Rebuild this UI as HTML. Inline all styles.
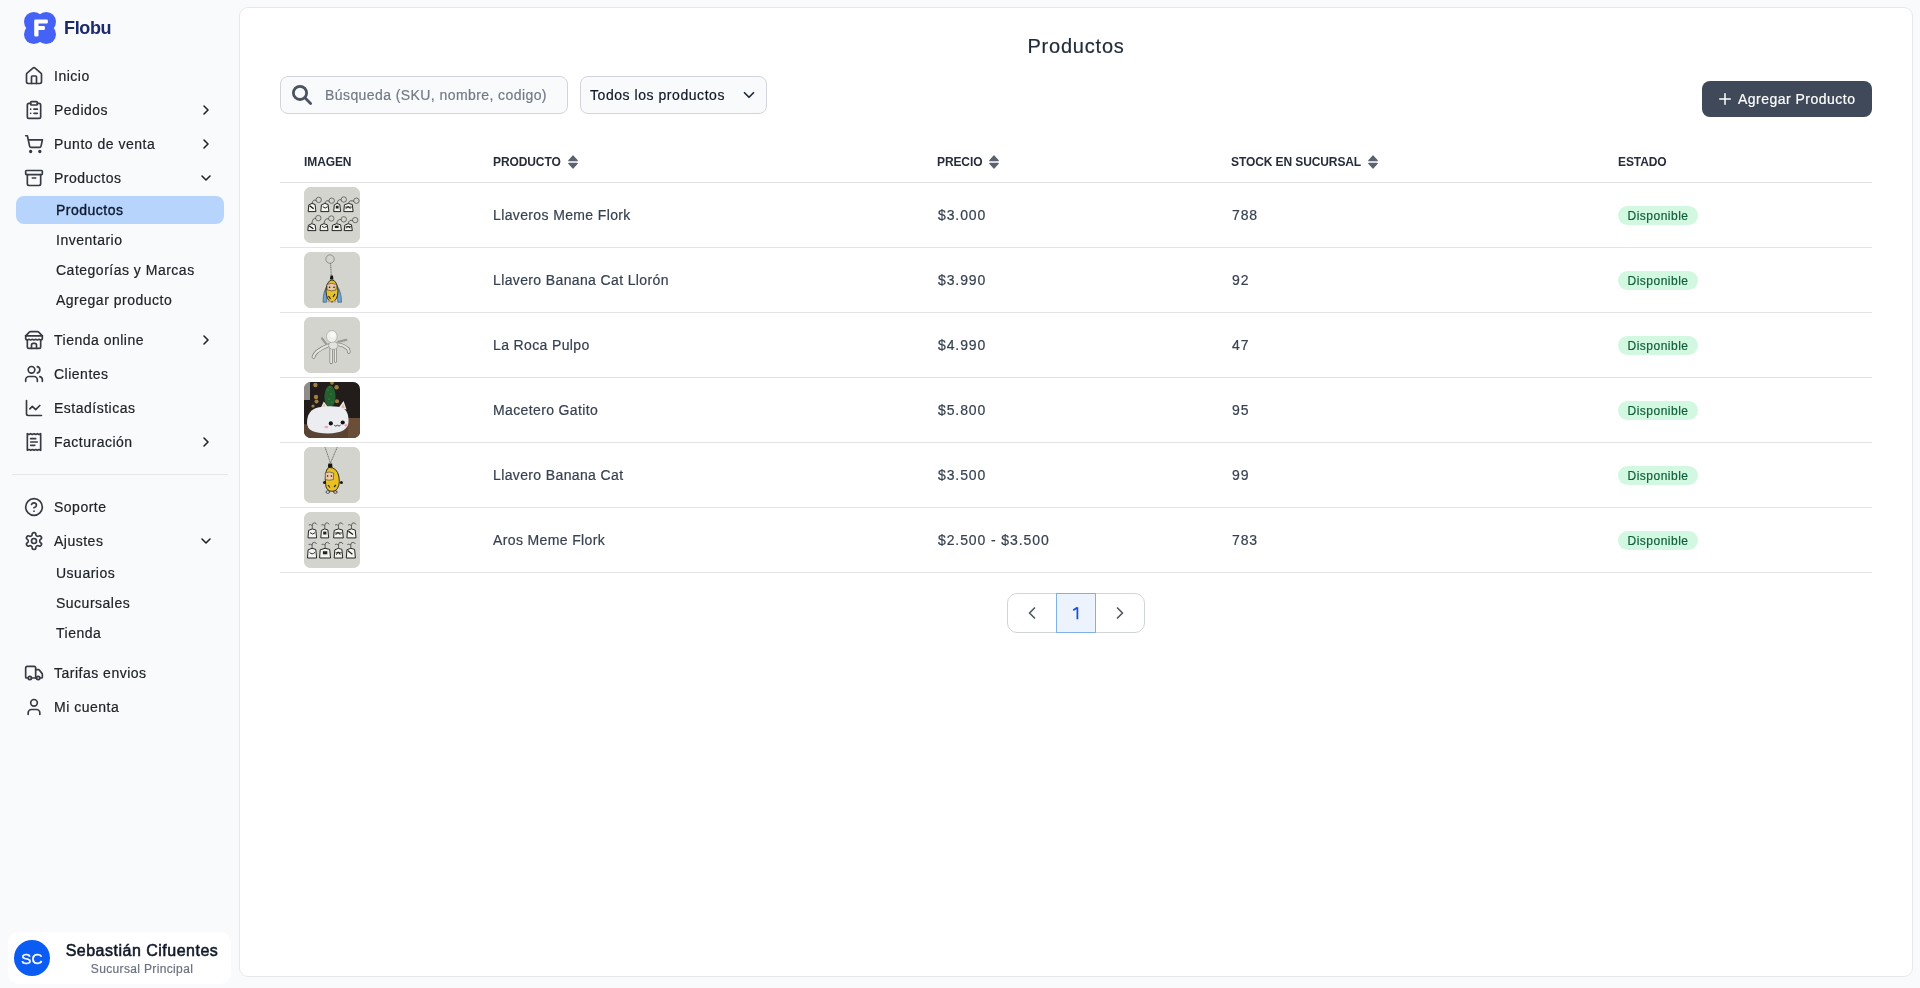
<!DOCTYPE html>
<html lang="es">
<head>
<meta charset="utf-8">
<title>Productos - Flobu</title>
<style>
*{box-sizing:border-box;margin:0;padding:0}
html,body{width:1920px;height:988px;overflow:hidden}
body{background:#f9fafb;font-family:"Liberation Sans",sans-serif;color:#1f2937;position:relative}
.nav .t,.sub .t,.td,#sel .t,#title,#search .ph,#btn .t,.badge,#ubr{-webkit-text-stroke:.2px currentColor}
.abs{position:absolute}
#root{position:absolute;left:0;top:0;width:1920px;height:988px;will-change:transform}
svg.i{position:absolute;fill:none;stroke:currentColor;stroke-width:2;stroke-linecap:round;stroke-linejoin:round}
/* sidebar */
#logo{left:24px;top:12px;width:32px;height:32px}
#brand{left:64px;top:18px;font-size:18px;font-weight:bold;color:#1a2a6c;line-height:20px;letter-spacing:-.35px}
.nav{position:absolute;left:0;width:232px;height:34px}
.nav .t{position:absolute;left:54px;top:0;line-height:34px;font-size:14px;letter-spacing:.5px;color:#202428;white-space:nowrap}
.nav svg.i{left:24px;top:7px;width:20px;height:20px;color:#363a42}
.nav svg.ch{left:198px;top:9px;width:16px;height:16px;color:#202428;stroke-width:2.4}
.sub{position:absolute;left:16px;width:208px;height:28px;border-radius:8px}
.sub .t{position:absolute;left:40px;top:0;line-height:28px;font-size:14px;letter-spacing:.5px;color:#202428;white-space:nowrap}
.sub.act{background:#b7d5fc}
.sub.act .t{color:#0c1830;-webkit-text-stroke:.35px #0c1830}
#div{left:12px;top:474px;width:216px;height:1px;background:#e5e7eb}
#user{left:8px;top:932px;width:223px;height:52px;background:#fff;border-radius:10px}
#av{left:6px;top:8px;width:36px;height:36px;border-radius:50%;background:#0b5cf2;color:#fff;font-size:15.5px;line-height:37px;text-align:center;-webkit-text-stroke:.3px #fff;letter-spacing:.3px}
#uname{left:56px;top:9px;width:156px;text-align:center;font-size:16px;font-weight:normal;-webkit-text-stroke:.55px #111827;letter-spacing:.5px;color:#111827;line-height:20px;white-space:nowrap}
#ubr{left:56px;top:29px;width:156px;text-align:center;font-size:12px;color:#6b7280;line-height:16px;letter-spacing:.35px;white-space:nowrap}
/* main */
#panel{left:239px;top:7px;width:1674px;height:970px;background:#fff;border:1px solid #e5e7eb;border-radius:9px}
#title{left:239px;top:34px;width:1674px;text-align:center;font-size:20px;letter-spacing:.8px;color:#1f2937;line-height:24px}
#search{left:280px;top:76px;width:288px;height:38px;border:1px solid #d1d5db;border-radius:8px;background:#f9fafb}
#search svg{color:#4b5361}
#search .ph{position:absolute;left:44px;top:0;line-height:36px;font-size:14px;letter-spacing:.42px;color:#737a86;white-space:nowrap}
#sel{left:580px;top:76px;width:187px;height:38px;border:1px solid #d1d5db;border-radius:8px;background:#f9fafb}
#sel .t{position:absolute;left:9px;top:0;line-height:36px;font-size:14px;letter-spacing:.55px;color:#111827;white-space:nowrap}
#sel svg{left:159px;top:9px;width:18px;height:18px;color:#1f2937;stroke-width:2.3}
#btn{left:1702px;top:81px;width:170px;height:36px;background:#3f4959;border-radius:8px;color:#fff}
#btn svg{left:14px;top:9px;width:18px;height:18px;color:#fff}
#btn .t{position:absolute;left:36px;top:0;line-height:36px;font-size:14px;letter-spacing:.48px;white-space:nowrap}
.th{position:absolute;top:154px;font-size:12px;font-weight:bold;color:#262c3a;line-height:16px;letter-spacing:-.1px;white-space:nowrap}
.sort{position:absolute;top:155px;width:10px;height:14px}
.hl{position:absolute;left:280px;width:1592px;height:1px;background:#e3e4e6}
.img{position:absolute;left:304px;width:56px;height:56px;border-radius:7px;background:#d5d5d0;overflow:hidden}
.td{position:absolute;font-size:14px;letter-spacing:.37px;color:#374151;line-height:20px;white-space:nowrap}
.num{letter-spacing:.9px}
.badge{position:absolute;left:1618px;width:80px;height:19px;border-radius:10px;background:#d3f8e2;color:#0f5f38;font-size:12px;line-height:21px;text-align:center;letter-spacing:.5px}
#pag{left:1007px;top:593px;width:138px;height:40px;border:1px solid #d1d5db;border-radius:10px;background:#fff}
#pag .pg{position:absolute;left:48px;top:-1px;width:40px;height:40px;border:1px solid #7fb0e6;background:#edf3fd;color:#1d4ed8;font-size:16px;line-height:38px;text-align:center}
#pag svg.i{top:9px;width:20px;height:20px;color:#52575e}
</style>
</head>
<body>
<div id="root">
<!-- SIDEBAR -->
<svg id="logo" class="abs" viewBox="0 0 32 32">
  <g fill="#4462f6">
    <circle cx="9.8" cy="9.8" r="9.8"/><circle cx="22.2" cy="9.8" r="9.8"/><circle cx="9.8" cy="22.2" r="9.8"/><circle cx="22.2" cy="22.2" r="9.8"/>
  </g>
  <path d="M11.4 7.45h11.3a1.2 1.2 0 0 1 1.2 1.2v1.65a1.2 1.2 0 0 1-1.2 1.2h-8.2v2.4h5.2a1.2 1.2 0 0 1 1.2 1.2v1.6a1.2 1.2 0 0 1-1.2 1.2h-5.2v5.3a1.2 1.2 0 0 1-1.2 1.2h-1.9a1.2 1.2 0 0 1-1.2-1.2V8.65a1.2 1.2 0 0 1 1.2-1.2z" fill="#fff"/>
</svg>
<div id="brand" class="abs">Flobu</div>

<div class="nav" style="top:59px"><svg class="i" viewBox="0 0 24 24"><path d="M15 21v-8a1 1 0 0 0-1-1h-4a1 1 0 0 0-1 1v8"/><path d="M3 10a2 2 0 0 1 .709-1.528l7-5.999a2 2 0 0 1 2.582 0l7 5.999A2 2 0 0 1 21 10v9a2 2 0 0 1-2 2H5a2 2 0 0 1-2-2z"/></svg><span class="t">Inicio</span></div>

<div class="nav" style="top:93px"><svg class="i" viewBox="0 0 24 24"><rect width="8" height="4" x="8" y="2" rx="1" ry="1"/><path d="M16 4h2a2 2 0 0 1 2 2v14a2 2 0 0 1-2 2H6a2 2 0 0 1-2-2V6a2 2 0 0 1 2-2h2"/><path d="M12 11h4"/><path d="M12 16h4"/><path d="M8 11h.01"/><path d="M8 16h.01"/></svg><span class="t">Pedidos</span><svg class="i ch" viewBox="0 0 24 24"><path d="m9 18 6-6-6-6"/></svg></div>

<div class="nav" style="top:127px"><svg class="i" viewBox="0 0 24 24"><circle cx="8" cy="21" r="1"/><circle cx="19" cy="21" r="1"/><path d="M2.05 2.05h2l2.66 12.42a2 2 0 0 0 2 1.58h9.78a2 2 0 0 0 1.95-1.57l1.65-7.43H5.12"/></svg><span class="t">Punto de venta</span><svg class="i ch" viewBox="0 0 24 24"><path d="m9 18 6-6-6-6"/></svg></div>

<div class="nav" style="top:161px"><svg class="i" viewBox="0 0 24 24"><rect width="20" height="5" x="2" y="3" rx="1"/><path d="M4 8v11a2 2 0 0 0 2 2h12a2 2 0 0 0 2-2V8"/><path d="M10 12h4"/></svg><span class="t">Productos</span><svg class="i ch" viewBox="0 0 24 24"><path d="m6 9 6 6 6-6"/></svg></div>

<div class="sub act" style="top:196px"><span class="t">Productos</span></div>
<div class="sub" style="top:226px"><span class="t">Inventario</span></div>
<div class="sub" style="top:256px"><span class="t">Categorías y Marcas</span></div>
<div class="sub" style="top:286px"><span class="t">Agregar producto</span></div>

<div class="nav" style="top:323px"><svg class="i" viewBox="0 0 24 24"><path d="m2 7 4.41-4.41A2 2 0 0 1 7.83 2h8.34a2 2 0 0 1 1.42.59L22 7"/><path d="M4 12v8a2 2 0 0 0 2 2h12a2 2 0 0 0 2-2v-8"/><path d="M15 22v-4a2 2 0 0 0-2-2h-2a2 2 0 0 0-2 2v4"/><path d="M2 7h20"/><path d="M22 7v3a2 2 0 0 1-2 2a2.7 2.7 0 0 1-1.59-.63.7.7 0 0 0-.82 0A2.7 2.7 0 0 1 16 12a2.7 2.7 0 0 1-1.59-.63.7.7 0 0 0-.82 0A2.7 2.7 0 0 1 12 12a2.7 2.7 0 0 1-1.59-.63.7.7 0 0 0-.82 0A2.7 2.7 0 0 1 8 12a2.7 2.7 0 0 1-1.59-.63.7.7 0 0 0-.82 0A2.7 2.7 0 0 1 4 12a2 2 0 0 1-2-2V7"/></svg><span class="t">Tienda online</span><svg class="i ch" viewBox="0 0 24 24"><path d="m9 18 6-6-6-6"/></svg></div>

<div class="nav" style="top:357px"><svg class="i" viewBox="0 0 24 24"><path d="M16 21v-2a4 4 0 0 0-4-4H6a4 4 0 0 0-4 4v2"/><circle cx="9" cy="7" r="4"/><path d="M22 21v-2a4 4 0 0 0-3-3.87"/><path d="M16 3.13a4 4 0 0 1 0 7.75"/></svg><span class="t">Clientes</span></div>

<div class="nav" style="top:391px"><svg class="i" viewBox="0 0 24 24"><path d="M3 3v16a2 2 0 0 0 2 2h16"/><path d="m19 9-5 5-4-4-3 3"/></svg><span class="t">Estadísticas</span></div>

<div class="nav" style="top:425px"><svg class="i" viewBox="0 0 24 24"><path d="M4 2v20l2-1 2 1 2-1 2 1 2-1 2 1 2-1 2 1V2l-2 1-2-1-2 1-2-1-2 1-2-1-2 1Z"/><path d="M14 8H8"/><path d="M16 12H8"/><path d="M13 16H8"/></svg><span class="t">Facturación</span><svg class="i ch" viewBox="0 0 24 24"><path d="m9 18 6-6-6-6"/></svg></div>

<div id="div" class="abs"></div>

<div class="nav" style="top:490px"><svg class="i" viewBox="0 0 24 24"><circle cx="12" cy="12" r="10"/><path d="M9.09 9a3 3 0 0 1 5.83 1c0 2-3 3-3 3"/><path d="M12 17h.01"/></svg><span class="t">Soporte</span></div>

<div class="nav" style="top:524px"><svg class="i" viewBox="0 0 24 24"><path d="M12.22 2h-.44a2 2 0 0 0-2 2v.18a2 2 0 0 1-1 1.73l-.43.25a2 2 0 0 1-2 0l-.15-.08a2 2 0 0 0-2.73.73l-.22.38a2 2 0 0 0 .73 2.73l.15.1a2 2 0 0 1 1 1.72v.51a2 2 0 0 1-1 1.74l-.15.09a2 2 0 0 0-.73 2.73l.22.38a2 2 0 0 0 2.730.73l.15-.08a2 2 0 0 1 2 0l.43.25a2 2 0 0 1 1 1.73V20a2 2 0 0 0 2 2h.44a2 2 0 0 0 2-2v-.18a2 2 0 0 1 1-1.73l.43-.25a2 2 0 0 1 2 0l.15.08a2 2 0 0 0 2.73-.73l.22-.39a2 2 0 0 0-.73-2.730l-.15-.08a2 2 0 0 1-1-1.74v-.5a2 2 0 0 1 1-1.74l.15-.09a2 2 0 0 0 .73-2.73l-.22-.38a2 2 0 0 0-2.73-.73l-.15.08a2 2 0 0 1-2 0l-.43-.25a2 2 0 0 1-1-1.73V4a2 2 0 0 0-2-2z"/><circle cx="12" cy="12" r="3"/></svg><span class="t">Ajustes</span><svg class="i ch" viewBox="0 0 24 24"><path d="m6 9 6 6 6-6"/></svg></div>

<div class="sub" style="top:559px"><span class="t">Usuarios</span></div>
<div class="sub" style="top:589px"><span class="t">Sucursales</span></div>
<div class="sub" style="top:619px"><span class="t">Tienda</span></div>

<div class="nav" style="top:656px"><svg class="i" viewBox="0 0 24 24"><path d="M14 18V6a2 2 0 0 0-2-2H4a2 2 0 0 0-2 2v11a1 1 0 0 0 1 1h2"/><path d="M15 18H9"/><path d="M19 18h2a1 1 0 0 0 1-1v-3.650a1 1 0 0 0-.22-.624l-3.48-4.35A1 1 0 0 0 17.52 8H14"/><circle cx="17" cy="18" r="2"/><circle cx="7" cy="18" r="2"/></svg><span class="t">Tarifas envios</span></div>

<div class="nav" style="top:690px"><svg class="i" viewBox="0 0 24 24"><path d="M19 21v-2a4 4 0 0 0-4-4H9a4 4 0 0 0-4 4v2"/><circle cx="12" cy="7" r="4"/></svg><span class="t">Mi cuenta</span></div>

<div id="user" class="abs"><div id="av" class="abs">SC</div><div id="uname" class="abs">Sebastián Cifuentes</div><div id="ubr" class="abs">Sucursal Principal</div></div>

<!-- MAIN -->
<div id="panel" class="abs"></div>
<div id="title" class="abs">Productos</div>

<div id="search" class="abs"><svg class="i" viewBox="0 0 40 36" style="left:0;top:0;width:40px;height:36px;stroke-width:2.8"><circle cx="19" cy="15.9" r="6.6"/><path d="M23.9 20.8 29.6 26.4"/></svg><span class="ph">Búsqueda (SKU, nombre, codigo)</span></div>
<div id="sel" class="abs"><span class="t">Todos los productos</span><svg class="i" viewBox="0 0 24 24"><path d="m6 9 6 6 6-6"/></svg></div>
<div id="btn" class="abs"><svg class="i" viewBox="0 0 24 24"><path d="M5 12h14"/><path d="M12 5v14"/></svg><span class="t">Agregar Producto</span></div>

<!-- table header -->
<div class="th" style="left:304px">IMAGEN</div>
<div class="th" style="left:493px">PRODUCTO</div>
<svg class="sort" style="left:568px" viewBox="0 0 10 14"><path d="M5 0.8 L9.3 5.6 H0.7Z M5 13.2 L9.3 8.4 H0.7Z" fill="#5c6270" stroke="#5c6270" stroke-width="1.1" stroke-linejoin="round"/></svg>
<div class="th" style="left:937px">PRECIO</div>
<svg class="sort" style="left:989px" viewBox="0 0 10 14"><path d="M5 0.8 L9.3 5.6 H0.7Z M5 13.2 L9.3 8.4 H0.7Z" fill="#5c6270" stroke="#5c6270" stroke-width="1.1" stroke-linejoin="round"/></svg>
<div class="th" style="left:1231px">STOCK EN SUCURSAL</div>
<svg class="sort" style="left:1368px" viewBox="0 0 10 14"><path d="M5 0.8 L9.3 5.6 H0.7Z M5 13.2 L9.3 8.4 H0.7Z" fill="#5c6270" stroke="#5c6270" stroke-width="1.1" stroke-linejoin="round"/></svg>
<div class="th" style="left:1618px">ESTADO</div>

<div class="hl" style="top:182px"></div>
<div class="hl" style="top:247px"></div>
<div class="hl" style="top:312px"></div>
<div class="hl" style="top:377px"></div>
<div class="hl" style="top:442px"></div>
<div class="hl" style="top:507px"></div>
<div class="hl" style="top:572px"></div>

<!-- rows -->
<div class="img" style="top:187px"><svg width="56" height="56" viewBox="0 0 56 56"><rect width="56" height="56" fill="#d4d4ce"/><circle cx="14.7" cy="12.9" r="2.7" fill="none" stroke="#555" stroke-width="0.8"/><path d="M8.1 16.2Q9.1 11.9 12.3 13.4" fill="none" stroke="#444" stroke-width="0.8"/><path d="M4.2 24.6L4.8 17.9Q8.1 15.1 11.1 17.5L11.9 24.6Z" fill="#f4f4f0" stroke="#111" stroke-width="0.9"/><path d="M5.7 18.7l3.9 3.1" stroke="#111" stroke-width="1.2"/><circle cx="27.7" cy="13.7" r="2.7" fill="none" stroke="#555" stroke-width="0.8"/><path d="M20.9 16.2Q21.9 12.7 25.3 14.2" fill="none" stroke="#444" stroke-width="0.8"/><path d="M16.8 24.6L17.4 17.9Q20.9 15.1 24.1 17.5L24.9 24.6Z" fill="#f4f4f0" stroke="#111" stroke-width="0.9"/><path d="M18.8 19.7q2.4 2.7 4.9 0" fill="none" stroke="#111" stroke-width="0.9"/><circle cx="39.8" cy="12.5" r="2.7" fill="none" stroke="#555" stroke-width="0.8"/><path d="M33.1 16.2Q34.1 11.5 37.4 13.0" fill="none" stroke="#444" stroke-width="0.8"/><path d="M29.7 24.6L30.3 17.9Q33.1 15.1 35.8 17.5L36.6 24.6Z" fill="#f4f4f0" stroke="#111" stroke-width="0.9"/><rect x="31.8" y="18.8" width="2.8" height="2.7" fill="#222"/><circle cx="52.4" cy="13.7" r="2.7" fill="none" stroke="#555" stroke-width="0.8"/><path d="M44.5 16.2Q45.5 12.7 50.0 14.2" fill="none" stroke="#444" stroke-width="0.8"/><path d="M39.8 24.6L40.4 17.9Q44.5 15.1 48.3 17.5L49.1 24.6Z" fill="#f4f4f0" stroke="#111" stroke-width="0.9"/><path d="M41.3 20.1h6.5M41.8 21.9l2.3 -2.7l2.3 2.7" fill="none" stroke="#111" stroke-width="0.9"/><circle cx="14.3" cy="31.1" r="2.7" fill="none" stroke="#555" stroke-width="0.8"/><path d="M7.8 36.5Q8.8 30.1 11.9 31.6" fill="none" stroke="#444" stroke-width="0.8"/><path d="M3.8 43.6L4.4 38.2Q7.9 35.4 11.1 37.8L11.9 43.6Z" fill="#f4f4f0" stroke="#111" stroke-width="0.9"/><path d="M5.3 39.0l4.1 2.7" stroke="#111" stroke-width="1.2"/><circle cx="27.3" cy="31.5" r="2.7" fill="none" stroke="#555" stroke-width="0.8"/><path d="M20.0 36.5Q21.0 30.5 24.9 32.0" fill="none" stroke="#444" stroke-width="0.8"/><path d="M16.0 43.6L16.6 38.2Q20.0 35.4 23.2 37.8L24.0 43.6Z" fill="#f4f4f0" stroke="#111" stroke-width="0.9"/><path d="M18.0 39.4q2.4 2.3 4.8 0" fill="none" stroke="#111" stroke-width="0.9"/><circle cx="39.8" cy="32.3" r="2.7" fill="none" stroke="#555" stroke-width="0.8"/><path d="M32.7 36.5Q33.7 31.3 37.4 32.8" fill="none" stroke="#444" stroke-width="0.8"/><path d="M28.0 43.6L28.6 38.2Q32.7 35.4 36.6 37.8L37.4 43.6Z" fill="#f4f4f0" stroke="#111" stroke-width="0.9"/><rect x="30.8" y="38.7" width="3.8" height="2.3" fill="#222"/><circle cx="51.2" cy="33.1" r="2.7" fill="none" stroke="#555" stroke-width="0.8"/><path d="M44.2 36.5Q45.2 32.1 48.8 33.6" fill="none" stroke="#444" stroke-width="0.8"/><path d="M40.2 43.6L40.8 38.2Q44.2 35.4 47.5 37.8L48.3 43.6Z" fill="#f4f4f0" stroke="#111" stroke-width="0.9"/><path d="M41.7 39.8h5.7M42.2 41.3l2.0 -2.3l2.0 2.3" fill="none" stroke="#111" stroke-width="0.9"/></svg></div>
<div class="td" style="left:493px;top:205px">Llaveros Meme Flork</div>
<div class="td num" style="left:938px;top:205px">$3.000</div>
<div class="td num" style="left:1232px;top:205px">788</div>
<div class="badge" style="top:206px">Disponible</div>

<div class="img" style="top:252px"><svg width="56" height="56" viewBox="0 0 56 56"><rect width="56" height="56" fill="#d4d4ce"/><circle cx="26" cy="7.1" r="4.2" fill="none" stroke="#8a8a86" stroke-width="0.9"/><path d="M26.6 11.3L27.3 24" stroke="#6d6d6a" stroke-width="1" stroke-dasharray="1.2 .6"/><path d="M23.5 33.5Q19 39 19 50.2L22.6 50.2Q22.3 42 24.5 36Z" fill="#6fa6d2" stroke="#2a4a6a" stroke-width=".6"/><path d="M32.5 33.5Q37.5 39 37.5 50.2L33.8 50.2Q34 42 31.5 36Z" fill="#6fa6d2" stroke="#2a4a6a" stroke-width=".6"/><ellipse cx="28" cy="39" rx="6" ry="11" fill="#e7c12a" stroke="#1e1e1e" stroke-width=".9"/><path d="M22.8 32.5Q27.5 30 32.5 32.5L32 38Q27.5 39.5 23.2 38Z" fill="#e9c6a4" stroke="#222" stroke-width=".5"/><circle cx="25.6" cy="35.2" r=".8" fill="#111"/><circle cx="30" cy="35.2" r=".8" fill="#111"/><path d="M26.5 23.6h2.4l.6 4h-3.6z" fill="#141414"/><path d="M24.5 44l2 3M29 45l2-3" stroke="#222" stroke-width="1.2"/><ellipse cx="25.5" cy="49.5" rx="1.8" ry="1" fill="#c9a080"/><ellipse cx="30.5" cy="49.5" rx="1.8" ry="1" fill="#c9a080"/></svg></div>
<div class="td" style="left:493px;top:270px">Llavero Banana Cat Llorón</div>
<div class="td num" style="left:938px;top:270px">$3.990</div>
<div class="td num" style="left:1232px;top:270px">92</div>
<div class="badge" style="top:271px">Disponible</div>

<div class="img" style="top:317px"><svg width="56" height="56" viewBox="0 0 56 56"><rect width="56" height="56" fill="#d4d4ce"/><g fill="none" stroke-linecap="round"><path d="M24.1 28.4Q18 31 13.2 34.4Q10.5 37 9.5 39.9" stroke="#6e6e6a" stroke-width="3.6"/><path d="M24.1 28.4Q18 31 13.2 34.4Q10.5 37 9.5 39.9" stroke="#e2e2df" stroke-width="2.4"/><path d="M32.6 27.1Q39.3 27.5 44.1 32Q44.8 33.5 44.8 35" stroke="#6e6e6a" stroke-width="3.4"/><path d="M32.6 27.1Q39.3 27.5 44.1 32Q44.8 33.5 44.8 35" stroke="#e2e2df" stroke-width="2.2"/><path d="M27.1 31V45.4M31.5 31V44.1" stroke="#6e6e6a" stroke-width="3"/><path d="M27.1 31V45.4M31.5 31V44.1" stroke="#e6e6e4" stroke-width="1.8"/><path d="M18 21.3L22.3 27.1M34.4 24.7L42.3 22.9" stroke="#9a9a96" stroke-width="2.2"/></g><ellipse cx="29.3" cy="28.5" rx="4.6" ry="4" fill="#e2e2e0" stroke="#8a8a86" stroke-width=".6"/><ellipse cx="27.8" cy="19.5" rx="5.4" ry="6" fill="#efefed" stroke="#9a9a96" stroke-width=".6"/><ellipse cx="29" cy="17.5" rx="2.5" ry="3" fill="#fafaf8"/></svg></div>
<div class="td" style="left:493px;top:335px">La Roca Pulpo</div>
<div class="td num" style="left:938px;top:335px">$4.990</div>
<div class="td num" style="left:1232px;top:335px">47</div>
<div class="badge" style="top:336px">Disponible</div>

<div class="img" style="top:382px"><svg width="56" height="56" viewBox="0 0 56 56"><rect width="56" height="56" fill="#221d1b"/><path d="M0 42Q20 46 56 38V56H0Z" fill="#5a4332"/><rect x="44" y="36" width="12" height="20" fill="#6a4e38"/><g fill="#c9a04e" opacity=".75"><circle cx="11.4" cy="3" r="2.2"/><circle cx="12" cy="15" r="2.2"/><circle cx="12.5" cy="19.5" r="2"/><circle cx="32.6" cy="5.3" r="2.2"/><circle cx="33" cy="19.3" r="2"/><circle cx="28" cy="1" r="1.8"/><circle cx="9" cy="24" r="1.6"/></g><rect x="0" y="0" width="6" height="18" fill="#bdbdb8" opacity=".7"/><ellipse cx="26" cy="14.5" rx="5.6" ry="11" fill="#24602f"/><g fill="#7fb07f" opacity=".8"><circle cx="24" cy="8" r=".5"/><circle cx="27" cy="12" r=".5"/><circle cx="25" cy="17" r=".5"/><circle cx="28" cy="20" r=".5"/><circle cx="26" cy="5" r=".5"/></g><path d="M16 27.5L19.8 19.6L24.5 26Z" fill="#ecedf0"/><path d="M34.5 26L39.6 19L42.5 27.5Z" fill="#ecedf0"/><path d="M18 26L19.8 21.6L22.5 25.8Z" fill="#f0b88e"/><path d="M36.5 25.8L39.4 21.4L41 26.6Z" fill="#f0b88e"/><path d="M3 41Q3 28 14 25.5Q24 23.5 36 25Q45 27 44.5 40Q44 51 24 51.5Q3 51.5 3 41Z" fill="#ecedf1"/><circle cx="26.8" cy="41.4" r="2.1" fill="#111"/><circle cx="38.7" cy="40.5" r="2.1" fill="#111"/><path d="M30.2 43.2q1.6 2 3.2 0q1.6 2 3.2 -.2" fill="none" stroke="#111" stroke-width=".8"/><ellipse cx="22.3" cy="45" rx="2" ry="1.3" fill="#f2a8b4"/><ellipse cx="42" cy="43.2" rx="1.6" ry="1.2" fill="#f2a8b4"/></svg></div>
<div class="td" style="left:493px;top:400px">Macetero Gatito</div>
<div class="td num" style="left:938px;top:400px">$5.800</div>
<div class="td num" style="left:1232px;top:400px">95</div>
<div class="badge" style="top:401px">Disponible</div>

<div class="img" style="top:447px"><svg width="56" height="56" viewBox="0 0 56 56"><rect width="56" height="56" fill="#d4d4ce"/><path d="M21 0.3L26.5 16M33.2 0.3L26.5 16" stroke="#6d6d6a" stroke-width="1" stroke-dasharray="1.2 .6" fill="none"/><path d="M24.3 16.5h3.8l.4 4.2h-4.6z" fill="#141414"/><path d="M25 20.5Q33 20 35 30Q36.5 40 31 44Q24 45.5 22 40Q20.5 32 22 25Q23 21 25 20.5Z" fill="#e8c022" stroke="#1e1e1e" stroke-width=".9"/><path d="M21.2 26Q25 24 29.6 26L29.4 32.5Q25 34 21.3 32.5Z" fill="#efc9a6" stroke="#222" stroke-width=".5"/><circle cx="23.6" cy="29" r=".8" fill="#111"/><circle cx="27.4" cy="29" r=".8" fill="#111"/><circle cx="20.5" cy="35.6" r="1.5" fill="#1a1a1a"/><circle cx="37.4" cy="35.6" r="1.5" fill="#1a1a1a"/><path d="M24 38l2 2.5M30 40l2-2" stroke="#222" stroke-width="1.1"/><ellipse cx="23.8" cy="45" rx="1.8" ry="1.3" fill="#eee" stroke="#111" stroke-width=".7"/><ellipse cx="31.4" cy="45" rx="1.8" ry="1.3" fill="#e8c8c0" stroke="#111" stroke-width=".7"/></svg></div>
<div class="td" style="left:493px;top:465px">Llavero Banana Cat</div>
<div class="td num" style="left:938px;top:465px">$3.500</div>
<div class="td num" style="left:1232px;top:465px">99</div>
<div class="badge" style="top:466px">Disponible</div>

<div class="img" style="top:512px"><svg width="56" height="56" viewBox="0 0 56 56"><rect width="56" height="56" fill="#d4d4ce"/><path d="M8.3 16.7V13.5Q8.3 10.5 10.8 10.8Q12.3 11.3 12.8 12.5M8.3 13.5q-2 -1.5 -3.5 -0.5" fill="none" stroke="#333" stroke-width="0.7"/><path d="M4.0 25.9L4.6 18.4Q8.3 15.6 11.8 18.0L12.6 25.9Z" fill="#f4f4f0" stroke="#111" stroke-width="0.9"/><path d="M6.0 20.6q2.6 2.9 5.2 0" fill="none" stroke="#111" stroke-width="0.9"/><path d="M20.8 16.7V13.5Q20.8 10.5 23.2 10.8Q24.8 11.3 25.2 12.5M20.8 13.5q-2 -1.5 -3.5 -0.5" fill="none" stroke="#333" stroke-width="0.7"/><path d="M16.8 25.9L17.4 18.4Q20.8 15.6 23.9 18.0L24.7 25.9Z" fill="#f4f4f0" stroke="#111" stroke-width="0.9"/><rect x="19.2" y="19.6" width="3.2" height="2.9" fill="#222"/><path d="M34.5 16.7V13.5Q34.5 10.5 37.0 10.8Q38.5 11.3 39.0 12.5M34.5 13.5q-2 -1.5 -3.5 -0.5" fill="none" stroke="#333" stroke-width="0.7"/><path d="M29.6 25.9L30.2 18.4Q34.5 15.6 38.5 18.0L39.3 25.9Z" fill="#f4f4f0" stroke="#111" stroke-width="0.9"/><path d="M31.1 21.0h6.8M31.6 23.0l2.4 -2.9l2.4 2.9" fill="none" stroke="#111" stroke-width="0.9"/><path d="M47.5 16.7V13.5Q47.5 10.5 50.0 10.8Q51.5 11.3 52.0 12.5M47.5 13.5q-2 -1.5 -3.5 -0.5" fill="none" stroke="#333" stroke-width="0.7"/><path d="M42.9 25.9L43.5 18.4Q47.5 15.6 51.2 18.0L52.0 25.9Z" fill="#f4f4f0" stroke="#111" stroke-width="0.9"/><path d="M44.4 19.2l4.6 3.4" stroke="#111" stroke-width="1.2"/><path d="M8.1 36.1V33.0Q8.1 30.0 10.6 30.3Q12.1 30.8 12.6 32.0M8.1 33.0q-2 -1.5 -3.5 -0.5" fill="none" stroke="#333" stroke-width="0.7"/><path d="M3.5 46.0L4.1 37.8Q8.1 35.0 11.8 37.4L12.6 46.0Z" fill="#f4f4f0" stroke="#111" stroke-width="0.9"/><path d="M5.5 40.3q2.7 3.1 5.5 0" fill="none" stroke="#111" stroke-width="0.9"/><path d="M21.1 36.1V33.0Q21.1 30.0 23.6 30.3Q25.1 30.8 25.6 32.0M21.1 33.0q-2 -1.5 -3.5 -0.5" fill="none" stroke="#333" stroke-width="0.7"/><path d="M15.6 46.0L16.2 37.8Q21.1 35.0 25.7 37.4L26.5 46.0Z" fill="#f4f4f0" stroke="#111" stroke-width="0.9"/><rect x="18.9" y="39.2" width="4.4" height="3.1" fill="#222"/><path d="M34.5 36.1V33.0Q34.5 30.0 37.0 30.3Q38.5 30.8 39.0 32.0M34.5 33.0q-2 -1.5 -3.5 -0.5" fill="none" stroke="#333" stroke-width="0.7"/><path d="M30.2 46.0L30.8 37.8Q34.5 35.0 37.9 37.4L38.7 46.0Z" fill="#f4f4f0" stroke="#111" stroke-width="0.9"/><path d="M31.7 40.8h6.0M32.2 42.9l2.1 -3.1l2.1 3.1" fill="none" stroke="#111" stroke-width="0.9"/><path d="M46.8 36.1V33.0Q46.8 30.0 49.3 30.3Q50.8 30.8 51.3 32.0M46.8 33.0q-2 -1.5 -3.5 -0.5" fill="none" stroke="#333" stroke-width="0.7"/><path d="M42.3 46.0L42.9 37.8Q46.8 35.0 50.6 37.4L51.4 46.0Z" fill="#f4f4f0" stroke="#111" stroke-width="0.9"/><path d="M43.8 38.6l4.6 3.6" stroke="#111" stroke-width="1.2"/></svg></div>
<div class="td" style="left:493px;top:530px">Aros Meme Flork</div>
<div class="td num" style="left:938px;top:530px">$2.500 - $3.500</div>
<div class="td num" style="left:1232px;top:530px">783</div>
<div class="badge" style="top:531px">Disponible</div>

<!-- pagination -->
<div id="pag" class="abs"><svg class="i" style="left:14px" viewBox="0 0 24 24"><path d="m15 18-6-6 6-6"/></svg><div class="pg"><svg style="position:absolute;left:0;top:0" width="40" height="40" viewBox="0 0 40 40"><path d="M20.4 13.3V25.3M20.4 13.5L16.2 16.2" fill="none" stroke="#1a4fd6" stroke-width="1.75" stroke-linecap="butt" stroke-linejoin="round"/></svg></div><svg class="i" style="left:102px" viewBox="0 0 24 24"><path d="m9 18 6-6-6-6"/></svg></div>
</div>
</body>
</html>
